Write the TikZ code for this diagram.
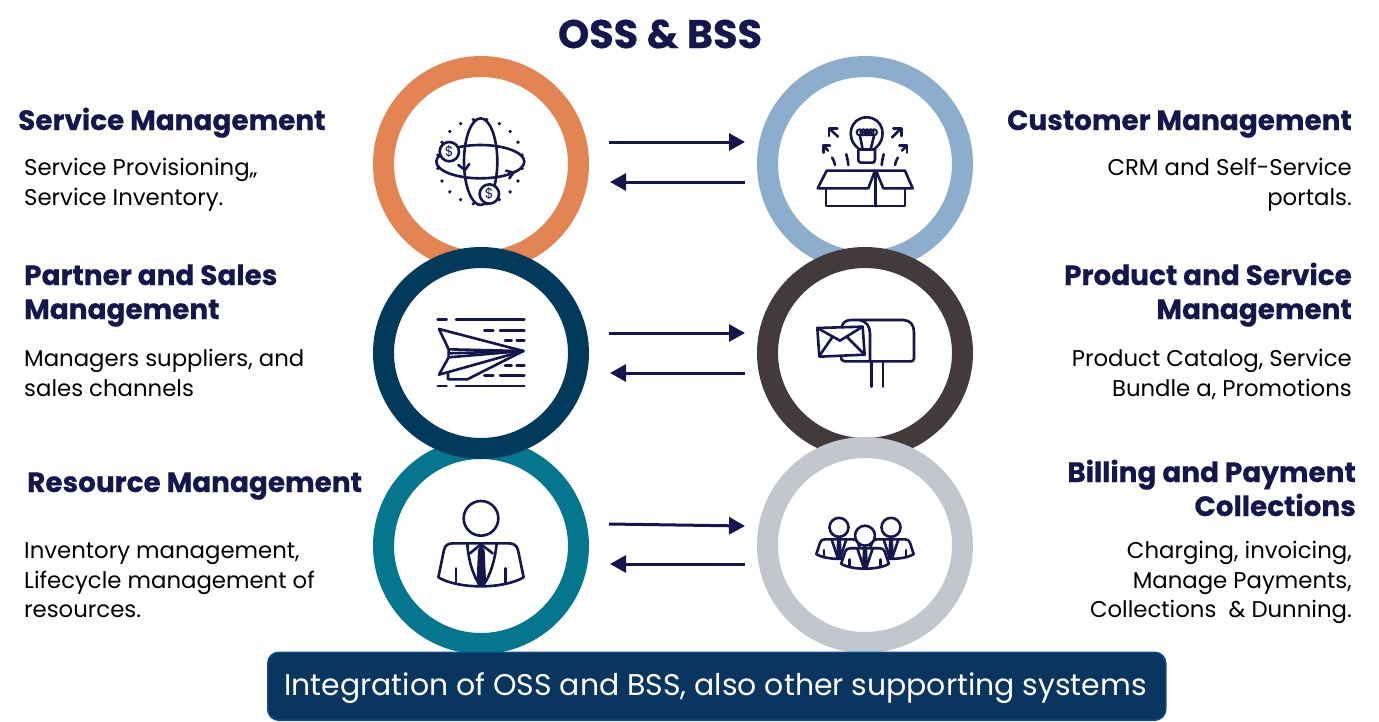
\documentclass[tikz,border=0pt]{standalone}
\usepackage{fontspec}
\setmainfont{Poppins}
\usetikzlibrary{arrows.meta,shapes.geometric}
\definecolor{cOrange}{HTML}{E38552}
\definecolor{cBlue}{HTML}{8DADCD}
\definecolor{cDeep}{HTML}{023A5C}
\definecolor{cCoal}{HTML}{433B3B}
\definecolor{cTeal}{HTML}{04778F}
\definecolor{cGrey}{HTML}{C2C7CE}
\definecolor{cNavy}{HTML}{14164E}
\definecolor{cBar}{HTML}{0A355F}
\definecolor{cBarEdge}{HTML}{0F4C8A}
\tikzset{
  ring/.style={circle,draw=#1,fill=white,line width=21pt,minimum size=195pt,inner sep=0pt},
  flatring/.style={ellipse,draw=#1,fill=white,line width=21pt,minimum width=195pt,minimum height=191pt,inner sep=0pt},
  head/.style={font=\fontsize{27.9}{34}\selectfont\bfseries\addfontfeatures{FakeBold=0.5},text=cNavy,inner sep=0pt},
  body/.style={font=\fontsize{22.8}{30}\selectfont,text=black,inner sep=0pt},
  lnk/.style={draw=cNavy,line width=3pt,-{Triangle[length=16pt,width=17pt]}},
  ico/.style={draw=cNavy,line width=2.6pt,line cap=round,line join=round},
  zoomA/.style={x=0.3333pt,y=-0.3333pt}
}
\begin{document}
\begin{tikzpicture}[x=1pt,y=-1pt]
\useasboundingbox (0,0) rectangle (1379,721);
\fill[white] (0,0) rectangle (1379,721);

\node[font=\fontsize{39.8}{46}\selectfont\bfseries\addfontfeatures{FakeBold=0.5},text=cNavy,inner sep=0pt,anchor=base] (title) at (660,48) {OSS \& BSS};

% rings
\node[ring=cOrange] (r1) at (481,164) {};
\node[ring=cTeal] (r3) at (481,546) {};
\node[flatring=cDeep] (r2) at (481,353) {};
\node[ring=cBlue] (q1) at (865,164) {};
\node[flatring=cCoal] (q2) at (865,353) {};
\node[ring=cGrey] (q3) at (865,545) {};

% arrows
\coordinate (a1) at (609,142); \coordinate (b1) at (745,142);
\coordinate (a2) at (745,182); \coordinate (b2) at (610,182);
\coordinate (a3) at (609,333); \coordinate (b3) at (745,333);
\coordinate (a4) at (745,373); \coordinate (b4) at (610,373);
\coordinate (a5) at (609,524); \coordinate (b5) at (745,526);
\coordinate (a6) at (745,564); \coordinate (b6) at (610,564);
\foreach \i in {1,...,6} {\draw[lnk] (a\i) -- (b\i);}

% left text
\node[head,anchor=base west] (h1) at (18,130) {Service Management};
\node[body,anchor=base west] (t1a) at (24,175) {Service Provisioning,,};
\node[body,anchor=base west] (t1b) at (24,205) {Service Inventory.};
\node[head,anchor=base west] (h2a) at (24,285) {Partner and Sales};
\node[head,anchor=base west] (h2b) at (24,319) {Management};
\node[body,anchor=base west] (t2a) at (24,366) {Managers suppliers, and};
\node[body,anchor=base west] (t2b) at (24,396) {sales channels};
\node[head,anchor=base west] (h3) at (27,492) {Resource Management};
\node[body,anchor=base west] (t3a) at (24,558) {Inventory management,};
\node[body,anchor=base west] (t3b) at (24,588) {Lifecycle management of};
\node[body,anchor=base west] (t3c) at (24,617) {resources.};

% right text
\node[head,anchor=base east] (k1) at (1352,130) {Customer Management};
\node[body,anchor=base east] (u1a) at (1352,175) {CRM and Self-Service};
\node[body,anchor=base east] (u1b) at (1352,205) {portals.};
\node[head,anchor=base east] (k2a) at (1352,285) {Product and Service};
\node[head,anchor=base east] (k2b) at (1352,319) {Management};
\node[body,anchor=base east] (u2a) at (1352,366) {Product Catalog, Service};
\node[body,anchor=base east] (u2b) at (1352,396) {Bundle a, Promotions};
\node[head,anchor=base east] (k3a) at (1356,482) {Billing and Payment};
\node[head,anchor=base east] (k3b) at (1356,516) {Collections};
\node[body,anchor=base east] (u3a) at (1352,558) {Charging, invoicing,};
\node[body,anchor=base east] (u3b) at (1352,588) {Manage Payments,};
\node[body,anchor=base east] (u3c) at (1352,617) {Collections\ \ \& Dunning.};

% bottom bar
\node[draw=cBarEdge,fill=cBar,line width=1.5pt,rounded corners=11pt,minimum width=898pt,minimum height=68pt,inner sep=0pt,anchor=north west] (bar) at (267,651.5) {};
\node[font=\fontsize{29.9}{38}\selectfont,text=white,inner sep=0pt,anchor=base] (bart) at (715.5,695) {Integration of OSS and BSS, also other supporting systems};

% icon 1: globe
\begin{scope}[shift={(370,50)},zoomA]
  \foreach \a in {0,18,...,342} {\fill[cNavy] ({330+128*cos(\a+9)},{335-128*sin(\a+9)}) circle (5.5);}
  \draw[ico,fill=white] (332,335) ellipse (50 and 130);
  \draw[ico] (331,335) ellipse (132 and 50);
  \draw[ico] (265,345) -- (285,360) -- (298,342);
  \draw[ico] (408,362) -- (430,368) -- (418,385);
  \draw[ico,fill=white] (238,305) circle (29);
  \draw[ico,fill=white] (358,432) circle (29);
  \node[font=\fontsize{14}{14}\selectfont,text=cNavy,inner sep=0pt] (c1) at (238,305) {\$};
  \node[font=\fontsize{14}{14}\selectfont,text=cNavy,inner sep=0pt] (c2) at (358,432) {\$};
\end{scope}

% icon 2: box and bulb
\begin{scope}[shift={(770,70)},zoomA]
  \draw[ico] (143,355) -- (170,302) -- (315,302) -- (295,355) -- cycle;
  \draw[ico] (318,302) -- (405,302) -- (428,355) -- (340,355) -- cycle;
  \draw[ico] (168,355) -- (168,408) -- (405,408) -- (405,355);
  \draw[ico] (317,305) -- (317,408);
  \draw[ico] (265,235) .. controls (225,205) and (240,142) .. (290,142) .. controls (340,142) and (355,205) .. (315,235) -- (315,270) .. controls (315,278) and (310,278) .. (305,278) -- (275,278) .. controls (268,278) and (265,275) .. (265,270) -- cycle;
  \draw[ico] (265,238) -- (315,238);
  \draw[ico] (278,238) -- (270,198) (302,238) -- (312,198);
  \foreach \fx in {269,280,291,302,312} {\draw[cNavy,line width=2pt] (\fx,187) circle (9);}
  \draw[ico,dash pattern=on 11pt off 12pt] (235,285) .. controls (232,260) and (226,240) .. (218,222);
  \draw[ico] (204,200) -- (178,176);
  \draw[ico] (177,198) -- (177,175) -- (202,175);
  \draw[ico,dash pattern=on 8pt off 12pt] (195,285) .. controls (192,272) and (188,265) .. (184,258);
  \draw[ico] (174,242) -- (160,227);
  \draw[ico] (160,248) -- (160,226) -- (180,226);
  \draw[ico,dash pattern=on 11pt off 12pt] (335,285) .. controls (338,260) and (344,240) .. (352,222);
  \draw[ico] (366,202) -- (393,176);
  \draw[ico] (370,175) -- (394,175) -- (394,198);
  \draw[ico,dash pattern=on 8pt off 12pt] (375,285) .. controls (378,272) and (382,265) .. (386,258);
  \draw[ico] (396,242) -- (410,227);
  \draw[ico] (388,226) -- (411,226) -- (411,248);
\end{scope}

% icon 3: paper plane
\begin{scope}[shift={(390,270)},zoomA]
  \draw[ico] (143,149) -- (170,149) (198,149) -- (403,149);
  \draw[ico] (283,181) -- (310,181) (330,181) -- (403,181);
  \draw[ico] (345,211) -- (365,211) (380,211) -- (403,211);
  \draw[ico] (345,286) -- (365,286) (380,286) -- (403,286);
  \draw[ico] (283,317) -- (310,317) (330,317) -- (403,317);
  \draw[ico] (143,348) -- (170,348) (198,348) -- (403,348);
  \draw[ico] (400,243) -- (147,177) -- (176,238) -- (176,262) -- (147,314) -- cycle;
  \draw[ico] (176,238) -- (400,243) -- (176,262);
  \draw[ico] (176,250) -- (400,243);
  \draw[ico] (174,308) -- (174,328) -- (232,328) -- (400,243);
\end{scope}

% icon 4: mailbox
\begin{scope}[shift={(780,270)},zoomA]
  \draw[ico] (185,170) .. controls (190,155) and (200,150) .. (215,150) -- (370,150) .. controls (390,150) and (402,165) .. (402,185) -- (402,265) .. controls (402,272) and (398,274) .. (392,274) -- (195,274) .. controls (187,274) and (183,270) .. (183,258);
  \draw[ico] (240,150) .. controls (260,155) and (270,170) .. (270,190) -- (270,274);
  \draw[ico] (274,274) -- (274,350) (309,274) -- (309,350);
  \draw[ico,fill=white] (112,174) -- (248,170) -- (254,254) -- (118,260) -- cycle;
  \draw[ico] (112,174) -- (180,212) -- (248,170);
  \draw[ico] (118,258) -- (158,200) (254,254) -- (200,200);
\end{scope}

% icon 5: person
\begin{scope}[shift={(390,470)},zoomA]
  \draw[ico] (273,145) circle (52);
  \draw[ico] (145,322) -- (162,240) .. controls (165,225) and (175,220) .. (190,220) -- (355,220) .. controls (370,220) and (380,225) .. (384,240) -- (401,322) .. controls (340,358) and (205,358) .. (145,322) -- cycle;
  \draw[ico] (232,222) .. controls (235,270) and (250,320) .. (270,345);
  \draw[ico] (320,222) .. controls (315,270) and (300,320) .. (280,345);
  \draw[ico] (240,250) -- (270,225) (308,250) -- (276,225);
  \draw[ico] (198,295) -- (198,338) (346,295) -- (346,338);
  \fill[cNavy] (264,240) -- (273,225) -- (284,240) -- (288,330) -- (284,350) -- (264,350) -- (260,330) -- cycle;
\end{scope}

% icon 6: team
\begin{scope}[shift={(780,480)},zoomA]
  \foreach \cx/\cy/\s in {177/142/0.62,333/142/0.62,255/167/0.65} {
    \begin{scope}[shift={(\cx,\cy)},x=\s*0.3333pt,y=-\s*0.3333pt]
      \draw[ico,fill=white] (0,0) circle (46);
      \draw[ico,fill=white] (-110,130) -- (-92,75) .. controls (-88,62) and (-80,58) .. (-66,58) -- (66,58) .. controls (80,58) and (88,62) .. (92,75) -- (110,130) .. controls (60,160) and (-60,160) .. (-110,130) -- cycle;
      \draw[ico] (-35,60) -- (-5,150) (35,60) -- (5,150);
      \fill[cNavy] (-10,62) -- (10,62) -- (14,150) -- (-14,150) -- cycle;
      \draw[ico] (-72,110) -- (-72,145) (72,110) -- (72,145);
    \end{scope}
  }
\end{scope}
\end{tikzpicture}
\end{document}
